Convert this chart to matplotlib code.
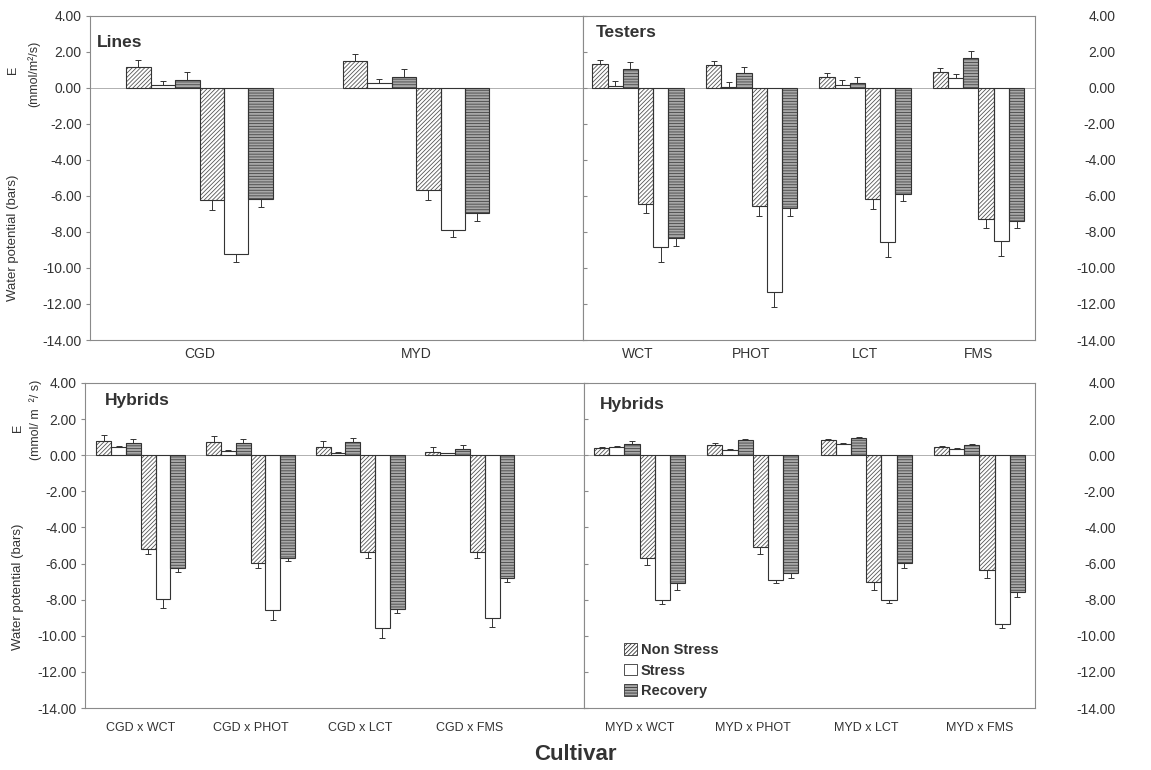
import matplotlib
matplotlib.use("Agg")
import matplotlib.pyplot as plt
from matplotlib.patches import Patch
import numpy as np

plt.rcParams['font.family'] = ['Liberation Sans', 'DejaVu Sans']
plt.rcParams['hatch.linewidth'] = 0.6

series = ["Non Stress", "Stress", "Recovery"]

# ---- Lines ----
lines_cats = ["CGD", "MYD"]
lines_E = [[1.15, 1.48], [0.17, 0.28], [0.44, 0.59]]
lines_E_err = [[0.40, 0.41], [0.20, 0.20], [0.43, 0.43]]
lines_WP = [[-6.22, -5.67], [-9.22, -7.89], [-6.20, -6.96]]
lines_WP_err = [[0.54, 0.55], [0.43, 0.41], [0.43, 0.41]]

# ---- Testers ----
testers_cats = ["WCT", "PHOT", "LCT", "FMS"]
testers_E = [[1.33, 1.28, 0.61, 0.85], [0.09, 0.04, 0.17, 0.52], [1.06, 0.81, 0.26, 1.67]]
testers_E_err = [[0.23, 0.22, 0.22, 0.22], [0.28, 0.26, 0.27, 0.22], [0.35, 0.34, 0.33, 0.37]]
testers_WP = [[-6.44, -6.54, -6.19, -7.28], [-8.85, -11.35, -8.57, -8.52], [-8.33, -6.67, -5.89, -7.37]]
testers_WP_err = [[0.52, 0.55, 0.53, 0.52], [0.84, 0.80, 0.80, 0.81], [0.43, 0.42, 0.42, 0.43]]

# ---- Hybrids (CGD) ----
hyb1_cats = ["CGD x WCT", "CGD x PHOT", "CGD x LCT", "CGD x FMS"]
hyb1_E = [[0.77, 0.76, 0.48, 0.18], [0.44, 0.26, 0.15, 0.11], [0.70, 0.70, 0.74, 0.37]]
hyb1_E_err = [[0.33, 0.31, 0.29, 0.26], [0.08, 0.05, 0.05, 0.04], [0.20, 0.20, 0.20, 0.22]]
hyb1_WP = [[-5.17, -5.95, -5.36, -5.36], [-7.94, -8.58, -9.59, -9.02], [-6.22, -5.67, -8.53, -6.78]]
hyb1_WP_err = [[0.28, 0.31, 0.31, 0.31], [0.53, 0.54, 0.54, 0.52], [0.24, 0.19, 0.22, 0.22]]

# ---- Hybrids (MYD) ----
hyb2_cats = ["MYD x WCT", "MYD x PHOT", "MYD x LCT", "MYD x FMS"]
hyb2_E = [[0.41, 0.59, 0.85, 0.44], [0.44, 0.29, 0.63, 0.37], [0.64, 0.83, 0.94, 0.59]]
hyb2_E_err = [[0.07, 0.07, 0.03, 0.06], [0.09, 0.06, 0.03, 0.05], [0.13, 0.07, 0.05, 0.05]]
hyb2_WP = [[-5.67, -5.08, -7.03, -6.37], [-8.03, -6.91, -8.03, -9.37], [-7.09, -6.54, -5.95, -7.55]]
hyb2_WP_err = [[0.43, 0.41, 0.45, 0.44], [0.22, 0.18, 0.18, 0.22], [0.39, 0.27, 0.31, 0.30]]

yticks = np.arange(-14, 4.01, 2)
TXT = '#333333'
SPINE = '#8a8a8a'

styles = [
    dict(face='white', hatch='////////', hcol='#555555'),
    dict(face='white', hatch=None, hcol='#555555'),
    dict(face='#a8a8a8', hatch='------', hcol='#454545'),
]


def draw_panel(ax, cats, E, Eerr, WP, WPerr, width, xlim, title, tpos, right=False,
               xfs=10, xpad=5):
    x = np.arange(len(cats))
    vals = [E[0], E[1], E[2], WP[0], WP[1], WP[2]]
    errs = [Eerr[0], Eerr[1], Eerr[2], WPerr[0], WPerr[1], WPerr[2]]
    ax.axhline(0, color='#b0b0b0', lw=0.7, zorder=1)
    for k in range(6):
        st = styles[k % 3]
        pos = x + (k - 2.5) * width
        v = np.array(vals[k])
        e = np.array(errs[k])
        ax.bar(pos, v, width, color=st['face'], edgecolor=st['hcol'], hatch=st['hatch'],
               linewidth=0, zorder=2)
        ax.bar(pos, v, width, fill=False, edgecolor='#333333', linewidth=0.8, zorder=3)
        lower = np.where(v < 0, e, 0)
        upper = np.where(v >= 0, e, 0)
        ax.errorbar(pos, v, yerr=[lower, upper], fmt='none', ecolor='#333333',
                    elinewidth=0.7, capsize=2.2, capthick=0.7, zorder=4)
    ax.set_xlim(*xlim)
    ax.set_ylim(-14, 4)
    ax.set_yticks(yticks)
    ax.set_xticks(x)
    ax.set_xticklabels(cats, fontsize=xfs, color=TXT)
    ax.tick_params(axis='x', length=0, pad=xpad)
    for s in ax.spines.values():
        s.set_color(SPINE)
        s.set_linewidth(0.8)
    ax.set_yticklabels([f"{t:.2f}" for t in yticks])
    if right:
        ax.yaxis.tick_right()
        ax.tick_params(axis='y', which='both', right=False, left=True, direction='in',
                       length=3, color=SPINE, labelsize=10, labelcolor=TXT, pad=58)
        ax.tick_params(axis='y', labelright=True, labelleft=False)
        for lab in ax.get_yticklabels():
            lab.set_horizontalalignment('right')
    else:
        ax.tick_params(axis='y', direction='out', length=3, color=SPINE,
                       labelsize=10, labelcolor=TXT, pad=3)
    ax.text(tpos[0], tpos[1], title, transform=ax.transAxes, fontsize=12.5,
            fontweight='bold', color=TXT, va='center', ha='left')


fig = plt.figure(figsize=(11.51, 7.70), dpi=100)
W, H = 1151, 770


def axes_px(x0, x1, ytop, ybot):
    return fig.add_axes([x0 / W, 1 - ybot / H, (x1 - x0) / W, (ybot - ytop) / H])


ax1 = axes_px(90, 583, 15.7, 340)
ax2 = axes_px(583, 1035, 15.7, 340)
ax3 = axes_px(85, 584, 383, 708)
ax4 = axes_px(584, 1035, 383, 708)

draw_panel(ax1, lines_cats, lines_E, lines_E_err, lines_WP, lines_WP_err,
           0.113, (-0.506, 1.771), "Lines", (0.014, 0.917))
draw_panel(ax2, testers_cats, testers_E, testers_E_err, testers_WP, testers_WP_err,
           0.134, (-0.485, 3.498), "Testers", (0.029, 0.948), right=True)
draw_panel(ax3, hyb1_cats, hyb1_E, hyb1_E_err, hyb1_WP, hyb1_WP_err,
           0.135, (-0.509, 4.04), "Hybrids", (0.04, 0.945), xfs=9, xpad=10)
draw_panel(ax4, hyb2_cats, hyb2_E, hyb2_E_err, hyb2_WP, hyb2_WP_err,
           0.134, (-0.49, 3.49), "Hybrids", (0.035, 0.935), right=True, xfs=9, xpad=10)

# legend
handles = [Patch(facecolor=styles[i]['face'], edgecolor='#333333', hatch=styles[i]['hatch'],
                 linewidth=0.6, label=series[i]) for i in range(3)]
ax4.legend(handles=handles, loc='upper left', bbox_to_anchor=(0.06, 0.24), frameon=False,
           handlelength=0.85, handleheight=0.85, handletextpad=0.3, labelspacing=0.45,
           prop=dict(size=10.5, weight='bold'), labelcolor=TXT)

# y labels
fig.text(13 / W, 1 - 70 / H, "E", rotation=90, fontsize=9, color=TXT, ha='center', va='center')
fig.text(34 / W, 1 - 74 / H, "(mmol/m²/s)", rotation=90, fontsize=9, color=TXT,
         ha='center', va='center')
fig.text(13 / W, 1 - 238 / H, "Water potential (bars)", rotation=90, fontsize=9.5, color=TXT,
         ha='center', va='center')
fig.text(18 / W, 1 - 428 / H, "E", rotation=90, fontsize=9, color=TXT, ha='center', va='center')
fig.text(36 / W, 1 - 420 / H, "(mmol/ m  ²/ s)", rotation=90, fontsize=9, color=TXT,
         ha='center', va='center')
fig.text(18 / W, 1 - 587 / H, "Water potential (bars)", rotation=90, fontsize=9.5, color=TXT,
         ha='center', va='center')

fig.text(575 / W, 1 - 755 / H, "Cultivar", fontsize=16, fontweight='bold', color=TXT,
         ha='center', va='center')

fig.savefig("out.png", dpi=100, facecolor='white')
